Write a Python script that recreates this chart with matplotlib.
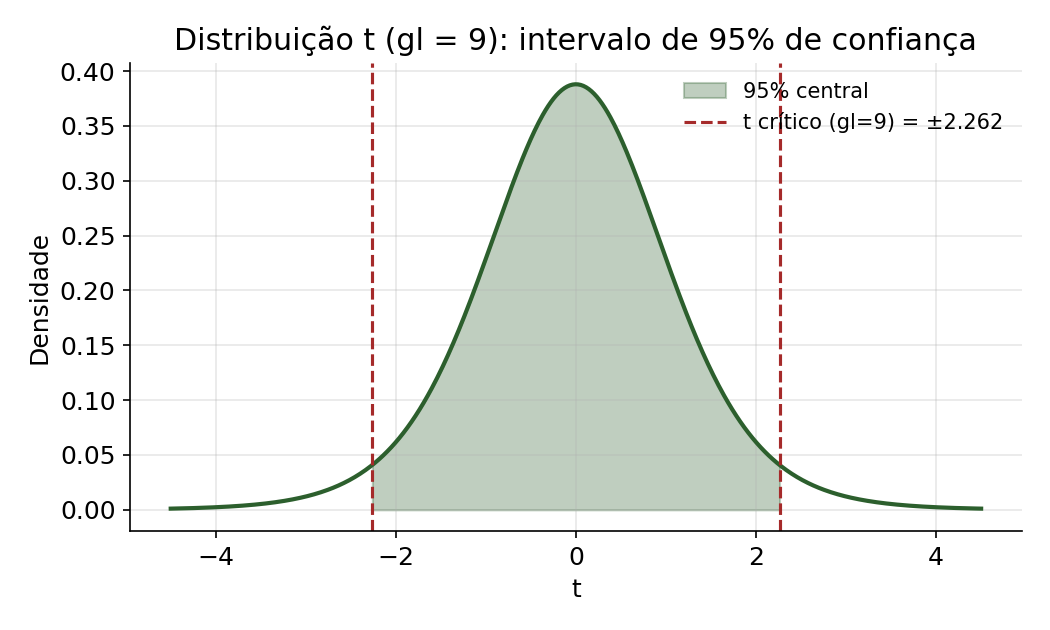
import math
import numpy as np
import matplotlib
matplotlib.use("Agg")
import matplotlib.pyplot as plt

# Data / parameters
gl = 9
t_crit = 2.262
x_min, x_max = -4.5, 4.5
title = "Distribuição t (gl = 9): intervalo de 95% de confiança"
fill_label = "95% central"
line_label = "t crítico (gl=9) = ±2.262"

x = np.linspace(x_min, x_max, 600)
const = math.gamma((gl + 1) / 2) / (math.sqrt(gl * math.pi) * math.gamma(gl / 2))
y = const * (1 + x**2 / gl) ** (-(gl + 1) / 2)

fig, ax = plt.subplots(figsize=(7, 4.2), dpi=150)
fig.subplots_adjust(left=0.124, right=0.973, top=0.9, bottom=0.157)

ax.plot(x, y, color="#2c5f2d", lw=2)
mask = (x >= -t_crit) & (x <= t_crit)
ax.fill_between(x[mask], y[mask], color="#2c5f2d", alpha=0.3, label=fill_label)
ax.axvline(-t_crit, color="#a52a2a", ls="--", lw=1.5, label=line_label)
ax.axvline(t_crit, color="#a52a2a", ls="--", lw=1.5)

ax.set_title(title, fontsize=14.4)
ax.set_xlabel("t", fontsize=12)
ax.set_ylabel("Densidade", fontsize=12)
ax.tick_params(labelsize=12)
ax.grid(alpha=0.3)
ax.spines["top"].set_visible(False)
ax.spines["right"].set_visible(False)
ax.legend(frameon=False, fontsize=10, loc="upper right")

fig.savefig("out.png", dpi=150)
